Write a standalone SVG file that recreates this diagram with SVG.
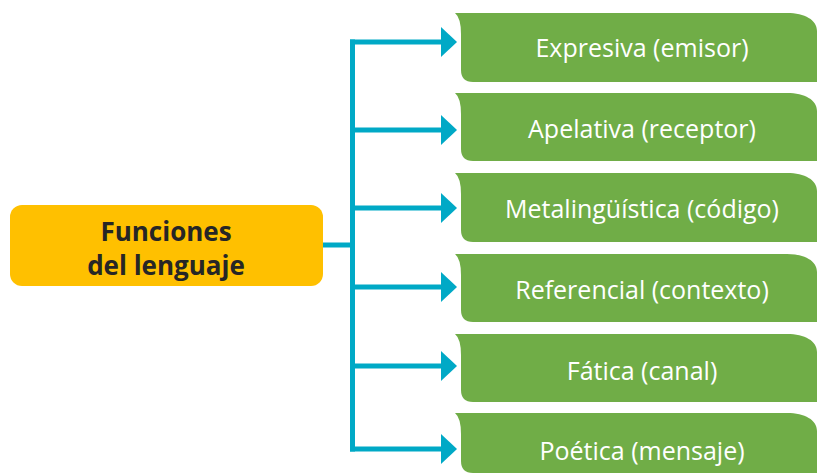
<svg xmlns="http://www.w3.org/2000/svg" width="817" height="474" viewBox="0 0 817 474">
<defs>
<style>
.g{fill:#70AD47}
.gt{font-family:"Open Sans","Liberation Sans",Arial,sans-serif;font-size:25px;fill:#ffffff;text-anchor:middle}
.yt{font-family:"Open Sans","Liberation Sans",Arial,sans-serif;font-size:26px;font-weight:bold;fill:#262626;text-anchor:middle}
.ln{stroke:#00A9C6;stroke-width:5;fill:none}
.ah{fill:#00A9C6}
</style>
</defs>
<rect width="817" height="474" fill="#ffffff"/>
<g id="connectors">
<path class="ln" d="M323,245 H352.5 M352.5,39.5 V451.5"/>
<path class="ln" d="M350,42 H442 M350,130 H442 M350,208 H442 M350,287 H442 M350,366 H442 M350,449 H442"/>
<polygon class="ah" points="441,27 457,42 441,57"/>
<polygon class="ah" points="441,115 457,130 441,145"/>
<polygon class="ah" points="441,193 457,208 441,223"/>
<polygon class="ah" points="441,272 457,287 441,302"/>
<polygon class="ah" points="441,351 457,366 441,381"/>
<polygon class="ah" points="441,434 457,449 441,464"/>
</g>
<g id="root">
<rect x="10" y="205" width="313" height="81" rx="12" fill="#FFC000"/>
<text class="yt" x="166" y="241">Funciones</text>
<text class="yt" x="166" y="275">del lenguaje</text>
</g>
<g id="n1">
<path class="g" d="M455,13 H787 C805,13 817,20 817,31 V82 H473 Q461,82 461,70 V34 Q461,18 455,13 Z"/>
<text class="gt" x="642" y="57">Expresiva (emisor)</text>
</g>
<g id="n2">
<path class="g" d="M455,93 H787 C805,93 817,100 817,111 V161 H473 Q461,161 461,149 V114 Q461,98 455,93 Z"/>
<text class="gt" x="642" y="138">Apelativa (receptor)</text>
</g>
<g id="n3">
<path class="g" d="M455,173 H787 C805,173 817,180 817,191 V242 H473 Q461,242 461,230 V194 Q461,178 455,173 Z"/>
<text class="gt" x="642" y="218">Metalingüística (código)</text>
</g>
<g id="n4">
<path class="g" d="M455,254 H787 C805,254 817,261 817,272 V322 H473 Q461,322 461,310 V275 Q461,259 455,254 Z"/>
<text class="gt" x="642" y="299">Referencial (contexto)</text>
</g>
<g id="n5">
<path class="g" d="M455,334 H787 C805,334 817,341 817,352 V402 H473 Q461,402 461,390 V355 Q461,339 455,334 Z"/>
<text class="gt" x="642" y="380">Fática (canal)</text>
</g>
<g id="n6">
<path class="g" d="M455,413 H787 C805,413 817,420 817,431 V473 H473 Q461,473 461,461 V434 Q461,418 455,413 Z"/>
<text class="gt" x="642" y="460">Poética (mensaje)</text>
</g>
</svg>
